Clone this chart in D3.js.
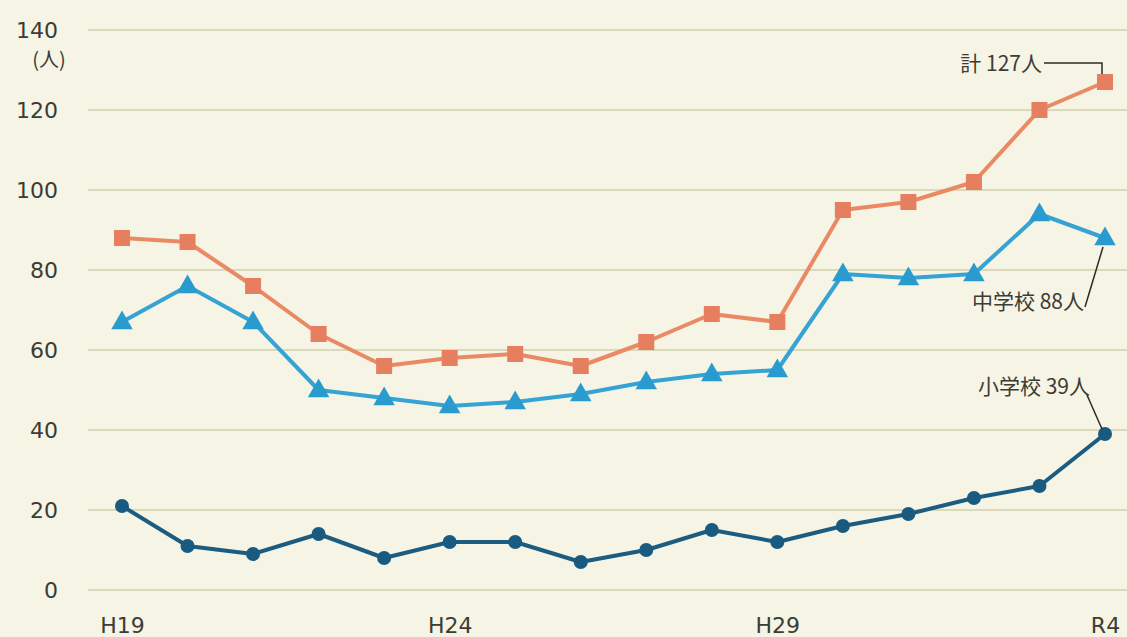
<!DOCTYPE html>
<html>
<head>
<meta charset="utf-8">
<script src="https://cdn.jsdelivr.net/npm/d3@7"></script>
<style>
  html, body { margin: 0; padding: 0; background: #f5f4e5; }
  svg { display: block; }
</style>
</head>
<body>
<svg id="chart" width="1127" height="637"></svg>
<script>
// Fiscal years, H19 (2007) through R4 (2022)
const years = ["H19","H20","H21","H22","H23","H24","H25","H26","H27","H28","H29","H30","R1","R2","R3","R4"];
const xTickLabels = ["H19","H24","H29","R4"];
const yTicks = [0, 20, 40, 60, 80, 100, 120, 140];

// Number of students (persons)
const totalValues  = [88, 87, 76, 64, 56, 58, 59, 56, 62, 69, 67, 95, 97, 102, 120, 127];
const juniorValues = [67, 76, 67, 50, 48, 46, 47, 49, 52, 54, 55, 79, 78, 79, 94, 88];
const elemValues   = [21, 11, 9, 14, 8, 12, 12, 7, 10, 15, 12, 16, 19, 23, 26, 39];

const svg = d3.select("#chart");
const W = 1127, H = 637;

const x = d3.scalePoint().domain(years).range([122, 1105]);
const y = d3.scaleLinear().domain([0, 140]).range([590, 30]);

const numFont = "'DejaVu Sans', sans-serif";
const jpFont = "'Noto Sans CJK JP', sans-serif";
const textColor = "#3c3c34";

// Horizontal gridlines
svg.append("g")
  .selectAll("line")
  .data(yTicks)
  .join("line")
  .attr("x1", 88).attr("x2", W)
  .attr("y1", d => y(d)).attr("y2", d => y(d))
  .attr("stroke", "#dadabb")
  .attr("stroke-width", 1.8);

// Y axis (labels only)
const yAxis = d3.axisLeft(y).tickValues(yTicks).tickSize(0).tickPadding(0);
const gy = svg.append("g").attr("transform", "translate(58,0)").call(yAxis);
gy.select(".domain").remove();
gy.selectAll("text")
  .attr("font-family", numFont)
  .attr("font-size", 22)
  .attr("fill", textColor);

// Unit label
svg.append("text")
  .attr("x", 49).attr("y", 67)
  .attr("text-anchor", "middle")
  .attr("font-family", jpFont)
  .attr("font-size", 20)
  .attr("fill", textColor)
  .text("(人)");

// X axis (labels only)
const xAxis = d3.axisBottom(x).tickValues(xTickLabels).tickSize(0).tickPadding(0);
const gx = svg.append("g").attr("transform", "translate(0,613)").call(xAxis);
gx.select(".domain").remove();
gx.selectAll("text")
  .attr("font-family", numFont)
  .attr("font-size", 22)
  .attr("fill", textColor)
  .attr("dy", "0.9em");

const line = vals => d3.line()
  .x((d, i) => x(years[i]))
  .y(d => y(d))(vals);

// Total
svg.append("path").attr("d", line(totalValues))
  .attr("fill", "none").attr("stroke", "#ea8a64").attr("stroke-width", 4)
  .attr("stroke-linejoin", "round");
svg.append("g").selectAll("rect")
  .data(totalValues)
  .join("rect")
  .attr("x", (d, i) => x(years[i]) - 8)
  .attr("y", d => y(d) - 8)
  .attr("width", 16).attr("height", 16)
  .attr("fill", "#e57f5f");

// Junior high school
svg.append("path").attr("d", line(juniorValues))
  .attr("fill", "none").attr("stroke", "#35a3d3").attr("stroke-width", 4)
  .attr("stroke-linejoin", "round");
const tri = d3.symbol().type(d3.symbolTriangle).size(200);
svg.append("g").selectAll("path")
  .data(juniorValues)
  .join("path")
  .attr("d", tri)
  .attr("transform", (d, i) => `translate(${x(years[i])},${y(d) + 1})`)
  .attr("fill", "#2a9bcf");

// Elementary school
svg.append("path").attr("d", line(elemValues))
  .attr("fill", "none").attr("stroke", "#1b5c80").attr("stroke-width", 4)
  .attr("stroke-linejoin", "round");
svg.append("g").selectAll("circle")
  .data(elemValues)
  .join("circle")
  .attr("cx", (d, i) => x(years[i]))
  .attr("cy", d => y(d))
  .attr("r", 7)
  .attr("fill", "#185a80");

// Callouts for the latest year
const last = years.length - 1;
const lx = x(years[last]);
const callouts = [
  { label: "計 127人", tx: 1042, ty: 62,
    path: [[1044, 63], [lx - 3, 63], [lx - 3, y(totalValues[last]) - 8]] },
  { label: "中学校 88人", tx: 1084, ty: 300,
    path: [[1085, 307], [lx - 2, y(juniorValues[last]) + 9]] },
  { label: "小学校 39人", tx: 1090, ty: 385,
    path: [[1087, 395], [lx - 3, y(elemValues[last]) - 5]] }
];
callouts.forEach(c => {
  svg.append("text")
    .attr("x", c.tx).attr("y", c.ty)
    .attr("text-anchor", "end")
    .attr("dominant-baseline", "central")
    .attr("font-family", jpFont)
    .attr("font-size", 21)
    .attr("fill", textColor)
    .text(c.label);
  svg.append("path")
    .attr("d", d3.line()(c.path))
    .attr("fill", "none")
    .attr("stroke", "#2b2b26")
    .attr("stroke-width", 1.5);
});
</script>
</body>
</html>
